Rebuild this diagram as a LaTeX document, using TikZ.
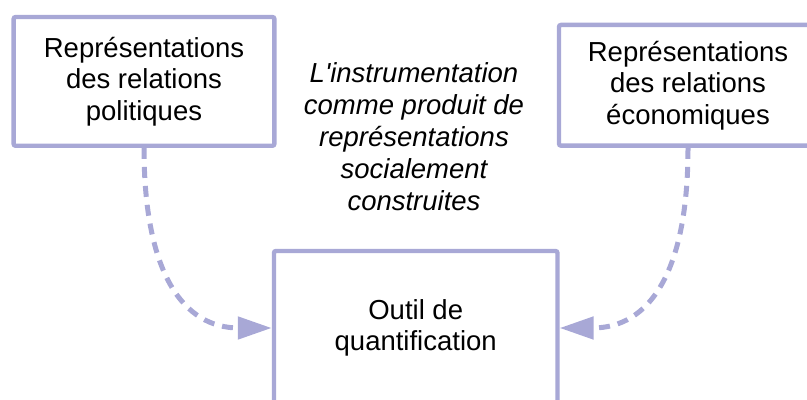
\documentclass[tikz,border=0pt]{standalone}
\usepackage{fontspec}
\setmainfont{Liberation Sans}
\usepackage{xcolor}
\usetikzlibrary{arrows.meta}
\definecolor{lilac}{RGB}{168,168,214}

\begin{document}
\begin{tikzpicture}[x=0.5pt, y=-0.5pt,
    box/.style={draw=lilac, line width=2.2pt, rounded corners=1pt, align=center,
        inner sep=0pt, font=\fontsize{13.75pt}{15.75pt}\selectfont},
    link/.style={lilac, line width=2.5pt, dash pattern=on 5.5pt off 4pt,
        -{Triangle[length=17pt, width=11pt]}}]
    \useasboundingbox (0,0) rectangle (807,400);
    \clip (0,0) rectangle (807,400);

    \coordinate (P) at (144,81.4);
    \coordinate (E) at (688,85.3);
    \coordinate (Q) at (415.7,328);
    \coordinate (T) at (414,137);

    \node[box, minimum width=130.4pt, minimum height=64.35pt] (pol) at (P)
        {Représentations\\des relations\\politiques};
    \node[box, minimum width=129pt, minimum height=60.35pt] (eco) at (E)
        {Représentations\\des relations\\économiques};
    \node[box, minimum width=141.75pt, minimum height=77pt] (quant) at (Q)
        {Outil de\\quantification};
    \node[align=center, font=\fontsize{13.75pt}{16pt}\selectfont\itshape] (thesis) at (T)
        {L\textquotesingle instrumentation\\comme produit de\\représentations\\socialement\\construites};

    \draw[link] (pol.south) .. controls (144,273) and (183,328) .. (quant.west);
    \draw[link] (eco.south) .. controls (688,273) and (649,328) .. (quant.east);

\end{tikzpicture}
\end{document}
